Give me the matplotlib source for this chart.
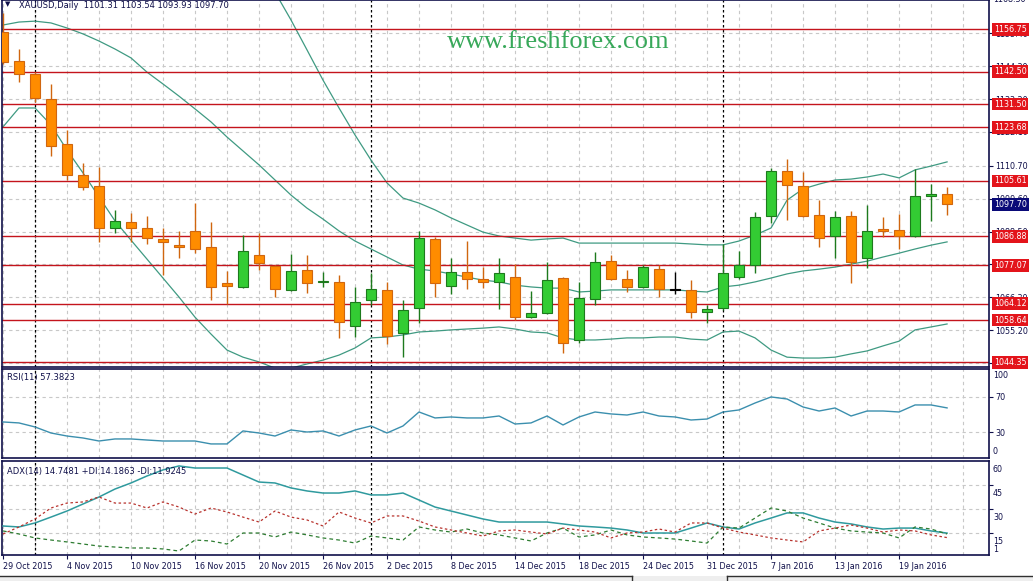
import matplotlib
matplotlib.use("Agg")
import matplotlib.pyplot as plt
import matplotlib.transforms as mtrans
from matplotlib.patches import Rectangle
from matplotlib.lines import Line2D

plt.rcParams['font.family'] = ['DejaVu Sans']

# ---- data (XAUUSD daily, 29 Oct 2015 .. 22 Jan 2016) ----
opens = [1155.8, 1146.0, 1141.7, 1133.2, 1118.0, 1107.6, 1103.9, 1089.7, 1091.7, 1089.7,
         1086.0, 1084.0, 1088.7, 1083.3, 1071.1, 1069.8, 1080.6, 1076.9, 1068.8, 1075.5,
         1071.5, 1071.5, 1056.6, 1065.4, 1068.8, 1054.3, 1062.7, 1086.0, 1070.1, 1074.8,
         1072.5, 1071.5, 1073.2, 1059.7, 1061.0, 1072.8, 1051.9, 1065.7, 1078.6, 1072.5,
         1069.8, 1075.9, 1068.8, 1068.8, 1061.3, 1062.7, 1073.2, 1077.2, 1093.7, 1108.9,
         1103.9, 1094.1, 1087.0, 1093.7, 1079.6, 1089.4, 1089.0, 1087.0, 1100.5, 1101.31]
highs = [1162.2, 1150.1, 1142.4, 1138.3, 1122.8, 1111.6, 1110.3, 1095.8, 1094.7, 1093.7,
         1089.7, 1088.7, 1098.1, 1091.7, 1075.2, 1087.3, 1088.0, 1077.2, 1080.9, 1080.6,
         1074.8, 1073.8, 1069.8, 1074.5, 1071.5, 1065.4, 1088.7, 1086.7, 1079.6, 1085.3,
         1076.5, 1079.6, 1077.5, 1068.4, 1078.2, 1073.2, 1071.5, 1081.6, 1080.6, 1075.5,
         1077.2, 1077.2, 1074.8, 1072.1, 1063.7, 1084.3, 1081.9, 1095.1, 1109.9, 1113.0,
         1108.6, 1099.1, 1095.4, 1095.4, 1097.5, 1093.4, 1094.4, 1109.6, 1104.5, 1103.54]
lows = [1145.0, 1139.0, 1132.2, 1114.0, 1105.9, 1102.5, 1085.0, 1088.0, 1085.0, 1084.3,
        1073.8, 1079.6, 1081.2, 1065.4, 1064.0, 1069.4, 1075.5, 1066.4, 1068.5, 1067.8,
        1069.8, 1052.6, 1052.9, 1063.7, 1050.5, 1046.2, 1057.6, 1066.4, 1067.4, 1069.1,
        1069.4, 1062.4, 1058.6, 1059.3, 1060.8, 1047.5, 1050.9, 1063.7, 1072.3, 1068.1,
        1069.4, 1066.4, 1067.4, 1059.3, 1057.6, 1062.0, 1072.5, 1074.5, 1091.4, 1092.4,
        1093.4, 1083.3, 1079.6, 1071.1, 1076.2, 1086.7, 1082.6, 1086.7, 1092.1, 1093.93]
closes = [1145.7, 1141.7, 1133.6, 1117.4, 1107.6, 1103.5, 1089.7, 1092.0, 1089.7, 1086.3,
          1085.0, 1083.3, 1082.6, 1069.8, 1070.1, 1081.9, 1077.9, 1069.1, 1075.2, 1071.1,
          1071.8, 1058.0, 1064.7, 1069.1, 1053.2, 1062.0, 1086.3, 1071.1, 1074.8, 1072.5,
          1071.5, 1074.5, 1059.7, 1061.0, 1072.1, 1050.9, 1066.1, 1078.2, 1072.5, 1069.8,
          1076.5, 1069.1, 1068.8, 1061.3, 1062.4, 1074.5, 1077.2, 1093.4, 1108.9, 1104.2,
          1093.7, 1086.3, 1093.4, 1078.2, 1088.7, 1088.7, 1087.0, 1100.5, 1101.2, 1097.70]

nan = float('nan')
bb_upper = [nan] * 16 + [
    1178.0, 1169.3, 1159.9, 1149.8, 1139.6, 1130.2, 1121.1, 1112.6, 1104.9, 1099.8,
    1098.1, 1095.8, 1093.1, 1090.7, 1088.3, 1087.0, 1086.3, 1085.6, 1086.0, 1086.3,
    1084.6, 1084.6, 1084.6, 1084.6, 1084.6, 1084.6, 1084.6, 1084.3, 1084.0, 1084.0,
    1085.3, 1087.3, 1089.7, 1099.1, 1102.9, 1104.5, 1105.9, 1106.2, 1106.9, 1107.9,
    1106.6, 1109.3, 1110.6, 1112.0]
bb_middle = [1158.2, 1159.2, 1159.5, 1158.9, 1157.2, 1155.2, 1152.8, 1150.1, 1147.1, 1142.3,
             1138.3, 1134.2, 1129.9, 1125.5, 1120.4, 1115.7, 1111.0, 1105.9, 1100.8, 1096.4,
             1092.7, 1088.7, 1085.3, 1082.6, 1079.9, 1077.2, 1075.8, 1075.2, 1074.2, 1073.1,
             1072.1, 1071.5, 1070.4, 1069.8, 1069.4, 1069.4, 1068.1, 1068.4, 1068.8, 1068.8,
             1068.8, 1068.8, 1068.8, 1068.4, 1068.1, 1069.8, 1070.4, 1071.5, 1072.8, 1074.2,
             1075.2, 1075.8, 1076.5, 1077.5, 1078.5, 1079.9, 1081.2, 1082.6, 1083.9, 1085.0]
bb_lower = [1123.8, 1130.2, 1130.2, 1124.5, 1116.0, 1108.3, 1100.2, 1092.1, 1085.6, 1079.2,
            1072.8, 1066.4, 1059.6, 1053.9, 1048.5, 1046.1, 1044.5, 1042.4, 1042.4, 1043.8,
            1045.1, 1046.8, 1049.2, 1052.6, 1052.9, 1053.6, 1054.6, 1054.9, 1055.3, 1055.6,
            1055.9, 1056.3, 1055.6, 1054.6, 1054.3, 1052.6, 1051.9, 1051.9, 1052.2, 1052.6,
            1052.6, 1052.9, 1052.9, 1052.2, 1051.9, 1054.6, 1054.9, 1052.6, 1048.5, 1046.1,
            1045.8, 1045.8, 1046.1, 1047.2, 1048.2, 1049.9, 1051.5, 1055.3, 1056.3, 1057.3]

rsi = [41.6, 40.5, 36.0, 29.2, 25.8, 23.6, 20.2, 22.5, 22.5, 21.3,
       20.2, 20.2, 20.2, 16.9, 16.9, 31.5, 29.2, 25.8, 32.6, 30.3,
       31.5, 25.8, 32.6, 37.1, 29.2, 37.1, 52.8, 46.1, 47.2, 46.1,
       46.1, 48.3, 39.3, 40.5, 48.3, 38.2, 47.2, 52.8, 50.6, 49.4,
       52.8, 48.3, 47.2, 43.8, 44.9, 52.8, 55.1, 62.9, 69.7, 67.4,
       58.4, 53.9, 57.3, 48.3, 53.9, 53.9, 52.8, 60.7, 60.7, 57.38]

adx = [19.2, 18.6, 21.1, 24.8, 28.6, 33.0, 37.4, 42.4, 46.2, 50.6,
       54.4, 56.9, 55.6, 55.6, 55.6, 51.2, 46.8, 46.2, 43.1, 41.2,
       39.9, 39.9, 41.2, 38.7, 38.7, 39.9, 35.5, 31.1, 28.6, 26.1,
       23.6, 21.7, 21.7, 21.7, 21.7, 20.5, 19.2, 18.6, 17.9, 16.7,
       14.8, 14.8, 14.8, 17.9, 21.1, 18.6, 17.3, 21.1, 24.2, 27.4,
       27.4, 24.2, 21.7, 20.5, 18.6, 17.3, 17.9, 17.9, 16.1, 14.75]
plus_di = [16.1, 14.2, 11.7, 10.4, 9.2, 7.9, 6.6, 6.0, 5.4, 5.4,
           4.8, 3.5, 10.4, 9.8, 7.9, 14.8, 14.8, 12.3, 15.4, 13.6,
           11.7, 10.4, 8.5, 12.9, 11.7, 10.4, 18.6, 16.7, 15.4, 17.3,
           14.8, 13.6, 11.7, 9.8, 14.8, 17.9, 12.3, 13.6, 16.7, 13.6,
           12.3, 11.7, 11.0, 9.8, 8.5, 18.6, 17.9, 24.2, 30.5, 28.6,
           24.2, 21.1, 17.9, 16.1, 15.4, 14.8, 11.7, 18.6, 17.3, 14.19]
minus_di = [14.2, 18.6, 23.6, 30.5, 33.6, 34.3, 37.4, 33.6, 33.6, 30.5,
            34.3, 31.1, 26.7, 30.5, 28.0, 24.8, 21.7, 28.6, 24.8, 23.0,
            19.2, 28.0, 24.2, 21.1, 25.5, 25.5, 22.3, 18.6, 16.7, 14.8,
            12.9, 16.1, 16.7, 15.4, 14.2, 17.9, 16.7, 15.4, 11.7, 14.8,
            15.4, 17.3, 15.4, 21.1, 21.1, 17.9, 15.4, 13.6, 11.7, 10.4,
            9.2, 16.1, 17.9, 19.8, 17.9, 15.4, 16.7, 16.1, 13.6, 11.92]

levels = [1156.75, 1142.50, 1131.50, 1123.68, 1105.61, 1086.88, 1077.07, 1064.12, 1058.64, 1044.35]
price_ticks = [1155.40, 1144.30, 1133.20, 1122.10, 1110.70, 1099.60, 1088.50,
               1077.40, 1066.30, 1055.20, 1044.10]
date_pos = list(range(0, 57, 4))
date_labels = ['29 Oct 2015', '4 Nov 2015', '10 Nov 2015', '16 Nov 2015', '20 Nov 2015',
               '26 Nov 2015', '2 Dec 2015', '8 Dec 2015', '14 Dec 2015', '18 Dec 2015',
               '24 Dec 2015', '31 Dec 2015', '7 Jan 2016', '13 Jan 2016', '19 Jan 2016']
month_starts = [2, 23, 45]
last_price = 1097.70

# ---- styling ----
NAVY = '#10104a'
GRID = '#c8c8c8'
BB = '#3f9a82'
FS = 5.8
W, H = 1033, 581

fig = plt.figure(figsize=(W / 100, H / 100), dpi=100)
fig.patch.set_facecolor('white')


def box(y0, y1):
    return [2 / W, 1 - y1 / H, 987 / W, (y1 - y0) / H]


ax = fig.add_axes(box(0, 367))
ax_rsi = fig.add_axes(box(369, 458))
ax_adx = fig.add_axes(box(461, 555))
n = len(closes)
xs = list(range(n))

for a in (ax, ax_rsi, ax_adx):
    a.set_xlim(-0.06, 61.62)
    for s in a.spines.values():
        s.set_color(NAVY)
        s.set_linewidth(1.2)
    a.yaxis.tick_right()
    a.tick_params(axis='y', colors=NAVY, labelsize=FS, length=3, pad=1.5, width=0.8)
    a.tick_params(axis='x', length=0)
    a.set_xticks([])
    for g in range(0, 62, 2):
        a.axvline(g, color=GRID, lw=0.8, dashes=(3, 3), zorder=0)
    for m in month_starts:
        a.axvline(m, color='black', lw=0.9, dashes=(2, 2), zorder=1)

# ---- main price panel ----
ax.set_ylim(1042.78, 1166.64)
ax.set_yticks(price_ticks)
ax.set_yticklabels([f'{v:.2f}' for v in price_ticks])
for v in price_ticks:
    ax.axhline(v, color=GRID, lw=0.8, dashes=(3, 3), zorder=0)
ax.text(1.004, 1.0, '1168.30', transform=ax.transAxes, fontsize=FS, color=NAVY,
        va='center', ha='left', clip_on=False)

ax.plot(xs, bb_upper, color=BB, lw=0.9, zorder=2)
ax.plot(xs, bb_middle, color=BB, lw=0.9, zorder=2)
ax.plot(xs, bb_lower, color=BB, lw=0.9, zorder=2)

for v in levels:
    ax.axhline(v, color='#c4141c', lw=1.0, zorder=2.2)

bw = 0.62
for i in xs:
    o, h, l, c = opens[i], highs[i], lows[i], closes[i]
    if c > o:
        face, edge = '#33cc33', '#1d7a1d'
    elif c < o:
        face, edge = '#ff8c00', '#d0660f'
    else:
        face, edge = 'black', 'black'
    ax.plot([i, i], [l, h], color=edge, lw=1.0, zorder=3, solid_capstyle='butt')
    lo, hi = min(o, c), max(o, c)
    ax.add_patch(Rectangle((i - bw / 2, lo), bw, max(hi - lo, 0.15), facecolor=face,
                           edgecolor=edge, lw=0.8, zorder=4))

trans = mtrans.blended_transform_factory(ax.transAxes, ax.transData)
for v in levels:
    ax.text(1.005, v, f'{v:.2f}', transform=trans, fontsize=FS, color='white',
            va='center', ha='left', clip_on=False, zorder=10,
            bbox=dict(boxstyle='square,pad=0.22', fc='#e3141b', ec='none'))
ax.text(1.005, last_price, f'{last_price:.2f}', transform=trans, fontsize=FS, color='white',
        va='center', ha='left', clip_on=False, zorder=10,
        bbox=dict(boxstyle='square,pad=0.22', fc='#0a0a78', ec='none'))

ax.text(0.017, 0.998, 'XAUUSD,Daily  1101.31 1103.54 1093.93 1097.70', transform=ax.transAxes,
        fontsize=6.0, color=NAVY, va='top', ha='left', zorder=11)
fig.text(5 / W, 1 - 4 / H, '\u25bc', fontsize=5, color=NAVY, va='center', ha='left')
fig.text(558 / W, 1 - 42 / H, 'www.freshforex.com', fontsize=19, color='#38a85a',
         family='Liberation Serif', va='center', ha='center', zorder=20)

# ---- RSI panel ----
ax_rsi.set_ylim(1.1, 101.1)
ax_rsi.set_yticks([70, 30])
ax_rsi.set_yticklabels(['70', '30'])
for v in (70, 30):
    ax_rsi.axhline(v, color=GRID, lw=0.8, dashes=(3, 3), zorder=0)
ax_rsi.plot(xs, rsi, color='#3b8fae', lw=1.0, zorder=3)
ax_rsi.text(1.004, 0.93, '100', transform=ax_rsi.transAxes, fontsize=FS, color=NAVY,
            va='center', ha='left')
ax_rsi.text(1.004, 0.07, '0', transform=ax_rsi.transAxes, fontsize=FS, color=NAVY,
            va='center', ha='left')
ax_rsi.text(0.005, 0.90, 'RSI(11) 57.3823', transform=ax_rsi.transAxes, fontsize=6.0,
            color=NAVY, va='center', ha='left')

# ---- ADX panel ----
ax_adx.set_ylim(1, 60)
ax_adx.set_yticks([45, 30, 15])
ax_adx.set_yticklabels([])
for v in (45, 30, 15):
    ax_adx.axhline(v, color=GRID, lw=0.8, dashes=(3, 3), zorder=0)
ta = mtrans.blended_transform_factory(ax_adx.transAxes, ax_adx.transData)
for v in (60, 45, 30, 15):
    ax_adx.text(1.004, v - 2.5, str(v), transform=ta, fontsize=FS, color=NAVY,
                va='top', ha='left', clip_on=False)
ax_adx.text(1.004, 1.5, '1', transform=ta, fontsize=FS, color=NAVY, va='bottom', ha='left')
ax_adx.plot(xs, adx, color='#2f9a9e', lw=1.1, zorder=3)
ax_adx.plot(xs, plus_di, color='#2e7d32', lw=0.9, dashes=(3, 2.5), zorder=3)
ax_adx.plot(xs, minus_di, color='#b8332e', lw=0.9, dashes=(2, 2), zorder=3)
ax_adx.text(0.005, 0.89, 'ADX(14) 14.7481 +DI:14.1863 -DI:11.9245',
            transform=ax_adx.transAxes, fontsize=6.0, color=NAVY, va='center', ha='left')

ax_adx.set_xticks(date_pos)
ax_adx.set_xticklabels(date_labels)
ax_adx.tick_params(axis='x', colors=NAVY, labelsize=FS, length=3, pad=2, width=0.8)
for t in ax_adx.get_xticklabels():
    t.set_horizontalalignment('left')

# ---- bottom tab strip ----
fig.patches.append(Rectangle((0, 0), 1, 5 / H, transform=fig.transFigure,
                             facecolor='#eeeeee', edgecolor='none'))
for x0, x1 in ((0, 632), (727, W)):
    fig.lines.append(Line2D([x0 / W, x1 / W], [1 - 576 / H, 1 - 576 / H],
                            transform=fig.transFigure, color='#303030', lw=1))
for xv in (632, 727):
    fig.lines.append(Line2D([xv / W, xv / W], [0, 1 - 576 / H],
                            transform=fig.transFigure, color='#303030', lw=1))

fig.savefig('out.png', dpi=100)
